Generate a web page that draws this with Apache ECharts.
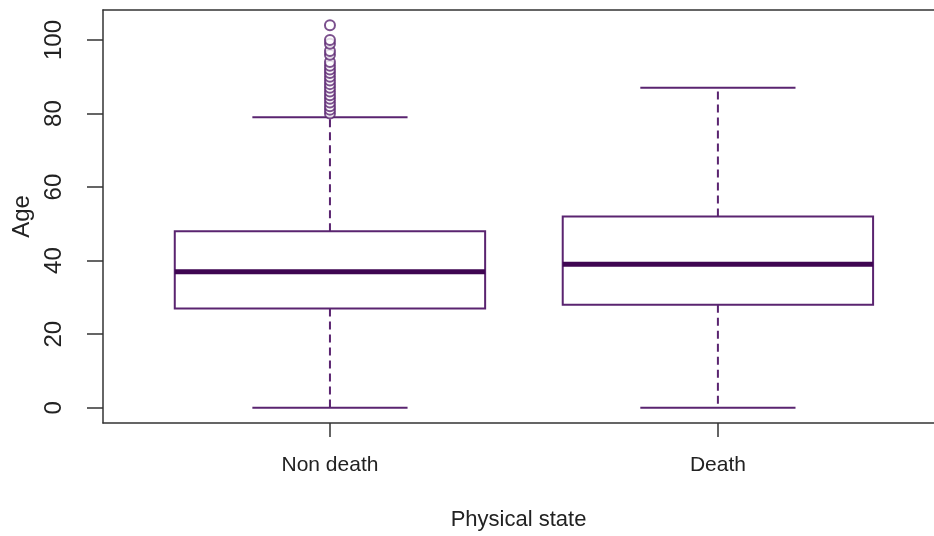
<!DOCTYPE html>
<html>
<head>
<meta charset="utf-8">
<script src="https://cdn.jsdelivr.net/npm/echarts@6/dist/echarts.min.js"></script>
<style>
  html, body { margin: 0; padding: 0; background: #fff; }
  #chart { width: 934px; height: 536px; }
</style>
</head>
<body>
<div id="chart"></div>
<script>
// categories and five-number summaries
const categories = ['Non death', 'Death'];
const lowerWhisker = [0, 0];
const q1 = [27, 28];
const median = [37, 39];
const q3 = [48, 52];
const upperWhisker = [79, 87];
// outliers (Non death only)
const outlierValues = [80, 81, 82, 83, 84, 85, 86, 87, 88, 89, 90, 91, 92, 93, 94, 96, 97, 99, 100, 104];
const yTicks = [0, 20, 40, 60, 80, 100];

const lineColor = '#5a2470';
const medianColor = '#3f0652';
const textColor = '#222';
const frameColor = '#333';
const fontFamily = '"Liberation Sans", Arial, sans-serif';

const boxData = categories.map((c, i) => [i + 1, lowerWhisker[i], q1[i], median[i], q3[i], upperWhisker[i]]);
const outlierData = outlierValues.map(v => [1, v]);

function renderBox(params, api) {
  const x = api.value(0);
  const w = api.size([0.8, 0])[0];
  const pMin = api.coord([x, api.value(1)]);
  const pQ1 = api.coord([x, api.value(2)]);
  const pMed = api.coord([x, api.value(3)]);
  const pQ3 = api.coord([x, api.value(4)]);
  const pMax = api.coord([x, api.value(5)]);
  const cx = pMed[0];
  const thin = { stroke: lineColor, lineWidth: 2, fill: null };
  const dashed = { stroke: lineColor, lineWidth: 2, lineDash: [8, 5], fill: null };
  return {
    type: 'group',
    children: [
      // whiskers
      { type: 'line', shape: { x1: cx, y1: pQ3[1], x2: cx, y2: pMax[1] }, style: dashed },
      { type: 'line', shape: { x1: cx, y1: pQ1[1], x2: cx, y2: pMin[1] }, style: dashed },
      // staples
      { type: 'line', shape: { x1: cx - w / 4, y1: pMax[1], x2: cx + w / 4, y2: pMax[1] }, style: thin },
      { type: 'line', shape: { x1: cx - w / 4, y1: pMin[1], x2: cx + w / 4, y2: pMin[1] }, style: thin },
      // box
      { type: 'rect', shape: { x: cx - w / 2, y: pQ3[1], width: w, height: pQ1[1] - pQ3[1] }, style: thin },
      // median
      { type: 'line', shape: { x1: cx - w / 2, y1: pMed[1], x2: cx + w / 2, y2: pMed[1] },
        style: { stroke: medianColor, lineWidth: 5 } }
    ]
  };
}

const chart = echarts.init(document.getElementById('chart'), null, { renderer: 'canvas' });
chart.setOption({
  animation: false,
  backgroundColor: '#fff',
  // plot frame runs off the right edge in the original, so only left/top/bottom lines
  grid: { left: 103, top: 10, right: 0, bottom: 113 },
  xAxis: [
    {
      type: 'value',
      min: 0.415, max: 2.557,
      name: 'Physical state',
      nameLocation: 'middle',
      nameGap: 86,
      nameTextStyle: { color: textColor, fontSize: 22, fontFamily: fontFamily },
      axisLine: { show: true, onZero: false, lineStyle: { color: frameColor, width: 1.5 } },
      splitLine: { show: false },
      axisTick: { show: true, length: 14, customValues: [1, 2], lineStyle: { color: frameColor, width: 1.5 } },
      axisLabel: {
        customValues: [1, 2],
        formatter: v => categories[Math.round(v) - 1] || '',
        color: textColor, fontSize: 21, fontFamily: fontFamily, margin: 32
      }
    },
    {
      type: 'value',
      position: 'top',
      min: 0.415, max: 2.557,
      axisLine: { show: true, onZero: false, lineStyle: { color: frameColor, width: 1.5 } },
      axisTick: { show: false },
      axisLabel: { show: false },
      splitLine: { show: false }
    }
  ],
  yAxis: {
    type: 'value',
    min: -4.16, max: 108.16,
    name: 'Age',
    nameLocation: 'middle',
    nameGap: 65,
    nameTextStyle: { color: textColor, fontSize: 24, fontFamily: fontFamily },
    axisLine: { show: true, onZero: false, lineStyle: { color: frameColor, width: 1.5 } },
    splitLine: { show: false },
    axisTick: { show: true, length: 16, customValues: yTicks, lineStyle: { color: frameColor, width: 1.5 } },
    axisLabel: {
      customValues: yTicks,
      rotate: 90,
      color: textColor, fontSize: 24, fontFamily: fontFamily, margin: 37
    }
  },
  series: [
    {
      type: 'custom',
      renderItem: renderBox,
      data: boxData,
      encode: { x: 0, y: [1, 2, 3, 4, 5] },
      silent: true
    },
    {
      type: 'scatter',
      data: outlierData,
      symbol: 'emptyCircle',
      symbolSize: 10,
      itemStyle: { color: lineColor, borderColor: lineColor, borderWidth: 1.5 },
      silent: true
    }
  ]
});
</script>
</body>
</html>
